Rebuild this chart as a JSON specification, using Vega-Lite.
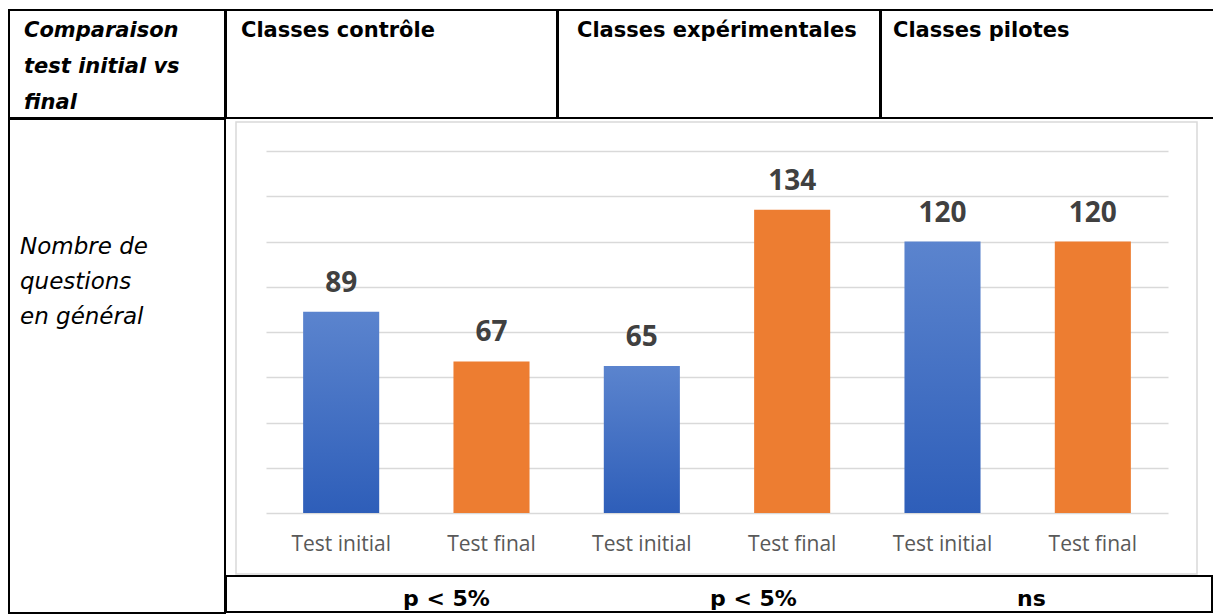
{
  "$schema": "https://vega.github.io/schema/vega-lite/v6.json",
  "padding": {"left": 8, "top": 9, "right": 0, "bottom": 0},
  "config": {"view": {"stroke": null}, "font": "Open Sans"},
  "spacing": -2,
  "vconcat": [
    {
      "spacing": -2,
      "hconcat": [
        {
          "width": 216, "height": 108,
          "view": {"stroke": "#000000", "strokeWidth": 2},
          "data": {"values": [{"texte": "Comparaison\ntest   initial   vs\nfinal"}]},
          "mark": {"type": "text", "align": "left", "baseline": "alphabetic", "dx": -93, "dy": -27, "font": "DejaVu Sans", "fontSize": 21, "fontWeight": "bold", "fontStyle": "italic", "lineBreak": "\n", "lineHeight": 36, "color": "#000000"},
          "encoding": {"text": {"field": "texte", "type": "nominal"}}
        },
        {
          "width": 331, "height": 108,
          "view": {"stroke": "#000000", "strokeWidth": 2},
          "data": {"values": [{"texte": "Classes contrôle"}]},
          "mark": {"type": "text", "align": "left", "baseline": "alphabetic", "dx": -150.5, "dy": -27, "font": "DejaVu Sans", "fontSize": 21, "fontWeight": "bold", "color": "#000000"},
          "encoding": {"text": {"field": "texte", "type": "nominal"}}
        },
        {
          "width": 322, "height": 108,
          "view": {"stroke": "#000000", "strokeWidth": 2},
          "data": {"values": [{"texte": "Classes expérimentales"}]},
          "mark": {"type": "text", "align": "left", "baseline": "alphabetic", "dx": -142, "dy": -27, "font": "DejaVu Sans", "fontSize": 21, "fontWeight": "bold", "color": "#000000"},
          "encoding": {"text": {"field": "texte", "type": "nominal"}}
        },
        {
          "width": 333, "height": 108,
          "view": {"stroke": "#000000", "strokeWidth": 2},
          "data": {"values": [{"texte": "Classes pilotes"}]},
          "mark": {"type": "text", "align": "left", "baseline": "alphabetic", "dx": -154.5, "dy": -27, "font": "DejaVu Sans", "fontSize": 21, "fontWeight": "bold", "color": "#000000"},
          "encoding": {"text": {"field": "texte", "type": "nominal"}}
        }
      ]
    },
    {
      "spacing": -2,
      "hconcat": [
        {
          "width": 216, "height": 494,
          "view": {"stroke": "#000000", "strokeWidth": 2},
          "data": {"values": [{"texte": "Nombre de\nquestions\nen général"}]},
          "mark": {"type": "text", "align": "left", "baseline": "alphabetic", "dx": -97, "dy": -112, "font": "DejaVu Sans", "fontSize": 23, "fontStyle": "italic", "lineBreak": "\n", "lineHeight": 35, "color": "#000000"},
          "encoding": {"text": {"field": "texte", "type": "nominal"}}
        },
        {
          "spacing": 0,
          "vconcat": [
            {
              "width": 1, "height": 2,
              "data": {"values": [{}]},
              "mark": {"type": "rect", "opacity": 0},
              "encoding": {}
            },
            {
              "spacing": 0,
              "hconcat": [
                {
                  "width": 9, "height": 1,
                  "data": {"values": [{}]},
                  "mark": {"type": "rect", "opacity": 0},
                  "encoding": {}
                },
                {
                  "width": 902, "height": 362,
                  "resolve": {"scale": {"x": "independent", "y": "independent"}},
                  "layer": [
                    {
                      "data": {"values": [{}]},
                      "mark": {"type": "rect", "filled": false, "color": "#D9D9D9", "strokeWidth": 1.5},
                      "encoding": {
                        "x": {"datum": 0, "type": "quantitative", "scale": {"domain": [0, 1], "range": [-30, 931]}, "axis": null},
                        "x2": {"datum": 1},
                        "y": {"datum": 0, "type": "quantitative", "scale": {"domain": [0, 1], "range": [423, -29]}, "axis": null},
                        "y2": {"datum": 1}
                      }
                    },
                    {
                      "data": {"values": [
                        {"classe": "Classes contrôle", "test": "Test initial", "nombre": 89},
                        {"classe": "Classes contrôle", "test": "Test final", "nombre": 67},
                        {"classe": "Classes expérimentales", "test": "Test initial", "nombre": 65},
                        {"classe": "Classes expérimentales", "test": "Test final", "nombre": 134},
                        {"classe": "Classes pilotes", "test": "Test initial", "nombre": 120},
                        {"classe": "Classes pilotes", "test": "Test final", "nombre": 120}
                      ]},
                      "layer": [
                        {
                          "mark": {"type": "bar"},
                          "encoding": {
                            "x": {"field": "classe", "type": "nominal", "axis": null, "scale": {"paddingInner": 0, "paddingOuter": 0}},
                            "xOffset": {"field": "test", "type": "nominal", "sort": ["Test initial", "Test final"], "scale": {"paddingInner": 0.494, "paddingOuter": 0.247}},
                            "y": {"field": "nombre", "type": "quantitative", "title": null, "scale": {"domain": [0, 160], "nice": false}, "axis": {"grid": true, "tickCount": 8, "labels": false, "ticks": false, "domain": false, "gridColor": "#D9D9D9", "gridWidth": 1.5}},
                            "color": {
                              "condition": {"test": "datum.test === 'Test initial'", "value": {"gradient": "linear", "x1": 0, "y1": 0, "x2": 0, "y2": 1, "stops": [{"offset": 0, "color": "#5B84CE"}, {"offset": 1, "color": "#2E5EB9"}]}},
                              "value": "#ED7D31"
                            }
                          }
                        },
                        {
                          "mark": {"type": "text", "dy": -20, "baseline": "alphabetic", "font": "Open Sans", "fontSize": 28, "fontWeight": "bold", "color": "#404040"},
                          "encoding": {
                            "x": {"field": "classe", "type": "nominal", "axis": null},
                            "xOffset": {"field": "test", "type": "nominal", "sort": ["Test initial", "Test final"]},
                            "y": {"field": "nombre", "type": "quantitative", "title": null},
                            "text": {"field": "nombre", "type": "quantitative"}
                          }
                        },
                        {
                          "mark": {"type": "text", "dy": 38, "baseline": "alphabetic", "font": "Open Sans", "fontSize": 21, "color": "#595959"},
                          "encoding": {
                            "x": {"field": "classe", "type": "nominal", "axis": null},
                            "xOffset": {"field": "test", "type": "nominal", "sort": ["Test initial", "Test final"]},
                            "y": {"datum": 0, "type": "quantitative", "title": null},
                            "text": {"field": "test", "type": "nominal"}
                          }
                        }
                      ]
                    }
                  ]
                }
              ]
            },
            {
              "width": 986, "height": 36,
              "view": {"stroke": "#000000", "strokeWidth": 2},
              "data": {"values": [
                {"classe": "Classes contrôle", "p": "p < 5%"},
                {"classe": "Classes expérimentales", "p": "p < 5%"},
                {"classe": "Classes pilotes", "p": "ns"}
              ]},
              "mark": {"type": "text", "align": "left", "baseline": "alphabetic", "dy": 12, "font": "DejaVu Sans", "fontSize": 22, "fontWeight": "bold", "color": "#000000"},
              "encoding": {
                "x": {"field": "classe", "type": "nominal", "axis": null, "scale": {"type": "point", "range": [177, 791], "padding": 0}},
                "text": {"field": "p", "type": "nominal"}
              }
            }
          ]
        }
      ]
    }
  ]
}
